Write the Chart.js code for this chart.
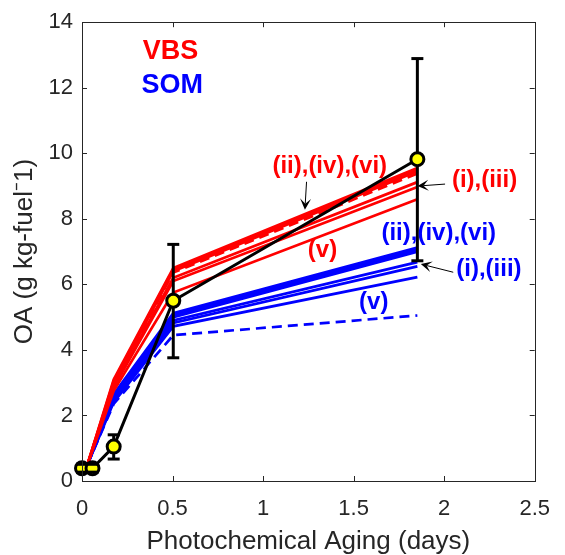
<!DOCTYPE html>
<html><head><meta charset="utf-8">
<script src="https://cdn.jsdelivr.net/npm/chart.js@4/dist/chart.umd.min.js"></script>
<style>html,body{margin:0;padding:0;background:#fff}</style>
</head><body>
<canvas id="c" width="565" height="555"></canvas>
<script>
// Measurements
const measX = [0, 0.058, 0.175, 0.504, 1.852];
const measY = [0.39, 0.39, 1.05, 5.50, 9.82];
const errLow = [0.27, 0.27, 0.67, 3.76, 6.72];
const errHigh = [0.51, 0.51, 1.41, 7.22, 12.89];

// Model runs (x = photochemical age, days)
const modelX = [0.03, 0.175, 0.504, 1.852];
const vbsII  = [0.5, 3.10, 6.50, 9.55];
const vbsIV  = [0.5, 3.05, 6.45, 9.50];
const vbsVI  = [0.5, 3.00, 6.40, 9.45];
const vbsBase = [0.5, 2.98, 6.36, 9.38];
const vbsI   = [0.5, 2.90, 6.20, 9.12];
const vbsIII = [0.5, 2.85, 6.10, 8.97];
const vbsV   = [0.5, 2.75, 5.75, 8.60];

const somII  = [0.5, 2.65, 5.12, 7.12];
const somIV  = [0.5, 2.60, 5.06, 7.06];
const somVI  = [0.5, 2.55, 5.00, 7.00];
const somI   = [0.5, 2.50, 4.90, 6.68];
const somIII = [0.5, 2.45, 4.82, 6.55];
const somV   = [0.5, 2.40, 4.72, 6.22];
const somBase = [0.5, 2.35, 4.45, 5.05];

const xTicks = [0, 0.5, 1, 1.5, 2, 2.5];
const yTicks = [0, 2, 4, 6, 8, 10, 12, 14];

const RED = '#ff0000', BLUE = '#0000ff', AX = '#262626';
const FONT = "'Liberation Sans', Arial, Helvetica, sans-serif";

const pts = (xs, ys) => xs.map((x, i) => ({x, y: ys[i]}));
function model(ys, color, dashed, order) {
  return {data: pts(modelX, ys), borderColor: color, borderWidth: 2.7, pointRadius: 0,
          borderDash: dashed ? [10, 6] : [], tension: 0, order, fill: false};
}

const datasets = [
  {label: 'measPts', data: pts(measX, measY), showLine: false, pointRadius: 6.5, pointBorderWidth: 3,
   pointBackgroundColor: '#ffff00', pointBorderColor: '#000', order: 0, clip: false},
  {label: 'measLine', data: pts(measX, measY), borderColor: '#000', borderWidth: 3, pointRadius: 0, tension: 0, order: 1, clip: false},
  model(vbsII, RED, false, 2), model(vbsIV, RED, false, 2), model(vbsVI, RED, false, 2),
  model(vbsBase, RED, true, 2), model(vbsI, RED, false, 2), model(vbsIII, RED, false, 2), model(vbsV, RED, false, 2),
  model(somII, BLUE, false, 3), model(somIV, BLUE, false, 3), model(somVI, BLUE, false, 3),
  model(somI, BLUE, false, 3), model(somIII, BLUE, false, 3), model(somV, BLUE, false, 3), model(somBase, BLUE, true, 3)
];

const texts = [
  {t: 'VBS', x: 0.335, y: 13.1, c: RED, s: 27, a: 'left'},
  {t: 'SOM', x: 0.328, y: 12.07, c: BLUE, s: 27, a: 'left'},
  {t: '(ii),(iv),(vi)', x: 1.368, y: 9.6, c: RED, s: 24, a: 'center'},
  {t: '(i),(iii)', x: 2.223, y: 9.18, c: RED, s: 24, a: 'center'},
  {t: '(v)', x: 1.328, y: 7.03, c: RED, s: 24, a: 'center'},
  {t: '(ii),(iv),(vi)', x: 1.970, y: 7.57, c: BLUE, s: 24, a: 'center'},
  {t: '(i),(iii)', x: 2.247, y: 6.47, c: BLUE, s: 24, a: 'center'},
  {t: '(v)', x: 1.611, y: 5.46, c: BLUE, s: 24, a: 'center'}
];
const arrows = [
  {x1: 1.240, y1: 9.13, x2: 1.231, y2: 8.28},
  {x1: 2.005, y1: 9.06, x2: 1.853, y2: 9.00},
  {x1: 2.050, y1: 6.37, x2: 1.871, y2: 6.62}
];

const overlay = {
  id: 'overlay',
  afterDatasetDraw(chart, args) {
    if (args.meta.label !== 'measLine') return;
    const {ctx, scales: {x, y}} = chart;
    ctx.save();
    ctx.strokeStyle = '#000'; ctx.lineWidth = 3;
    measX.forEach((mx, i) => {
      const px = x.getPixelForValue(mx);
      ctx.beginPath();
      ctx.moveTo(px, y.getPixelForValue(errLow[i]));
      ctx.lineTo(px, y.getPixelForValue(errHigh[i]));
      ctx.stroke();
    });
    ctx.restore();
  },
  afterDatasetsDraw(chart) {
    const {ctx, scales: {x, y}, chartArea: ca} = chart;
    ctx.save();
    // error caps
    ctx.strokeStyle = '#000'; ctx.lineWidth = 3;
    measX.forEach((mx, i) => {
      const px = x.getPixelForValue(mx);
      [errLow[i], errHigh[i]].forEach(v => {
        const py = y.getPixelForValue(v);
        ctx.beginPath(); ctx.moveTo(px - 6, py); ctx.lineTo(px + 6, py); ctx.stroke();
      });
    });
    // arrows
    arrows.forEach(a => {
      const x1 = x.getPixelForValue(a.x1), y1 = y.getPixelForValue(a.y1);
      const x2 = x.getPixelForValue(a.x2), y2 = y.getPixelForValue(a.y2);
      const ang = Math.atan2(y2 - y1, x2 - x1);
      ctx.strokeStyle = '#000'; ctx.lineWidth = 1;
      ctx.beginPath(); ctx.moveTo(x1, y1); ctx.lineTo(x2 - 6 * Math.cos(ang), y2 - 6 * Math.sin(ang)); ctx.stroke();
      const L = 11, W = 5.5, N = 6;
      const c = Math.cos(ang), s = Math.sin(ang);
      ctx.fillStyle = '#000';
      ctx.beginPath();
      ctx.moveTo(x2, y2);
      ctx.lineTo(x2 - L * c - W * s, y2 - L * s + W * c);
      ctx.lineTo(x2 - N * c, y2 - N * s);
      ctx.lineTo(x2 - L * c + W * s, y2 - L * s - W * c);
      ctx.closePath(); ctx.fill();
    });
    // texts
    ctx.textBaseline = 'middle';
    texts.forEach(t => {
      ctx.font = `bold ${t.s}px ${FONT}`;
      ctx.fillStyle = t.c; ctx.textAlign = t.a;
      ctx.fillText(t.t, x.getPixelForValue(t.x), y.getPixelForValue(t.y));
    });
    // box and inward ticks
    ctx.strokeStyle = AX; ctx.lineWidth = 1;
    ctx.strokeRect(Math.round(ca.left) + 0.5, Math.round(ca.top) + 0.5, Math.round(ca.right - ca.left), Math.round(ca.bottom - ca.top));
    const T = 5;
    ctx.beginPath();
    xTicks.forEach(v => {
      const px = Math.round(x.getPixelForValue(v)) + 0.5;
      ctx.moveTo(px, ca.bottom); ctx.lineTo(px, ca.bottom - T);
      ctx.moveTo(px, ca.top); ctx.lineTo(px, ca.top + T);
    });
    yTicks.forEach(v => {
      const py = Math.round(y.getPixelForValue(v)) + 0.5;
      ctx.moveTo(ca.left, py); ctx.lineTo(ca.left + T, py);
      ctx.moveTo(ca.right, py); ctx.lineTo(ca.right - T, py);
    });
    ctx.stroke();
    ctx.restore();
  }
};

new Chart(document.getElementById('c'), {
  type: 'line',
  data: {datasets},
  options: {
    responsive: false, animation: false, devicePixelRatio: 1,
    layout: {padding: {top: 17, right: 18, left: 0, bottom: 0}},
    plugins: {legend: {display: false}, tooltip: {enabled: false}},
    scales: {
      x: {type: 'linear', min: 0, max: 2.5,
          afterBuildTicks: s => { s.ticks = xTicks.map(v => ({value: v})); },
          afterFit: s => { s.height = 74; },
          grid: {display: false, drawTicks: false}, border: {display: false},
          ticks: {color: AX, font: {family: FONT, size: 22}, padding: 15, maxRotation: 0,
                  callback: v => String(v)},
          title: {display: true, text: 'Photochemical Aging (days)', color: AX,
                  font: {family: FONT, size: 26, lineHeight: 1}, padding: 0}},
      y: {type: 'linear', min: 0, max: 14,
          afterBuildTicks: s => { s.ticks = yTicks.map(v => ({value: v})); },
          afterFit: s => { s.width = 82; },
          grid: {display: false, drawTicks: false}, border: {display: false},
          ticks: {color: AX, font: {family: FONT, size: 22}, padding: 9, callback: v => String(v)},
          title: {display: true, text: 'OA (g kg-fuel\u207B1)', color: AX,
                  font: {family: FONT, size: 26, lineHeight: 1}, padding: {top: 12, bottom: 0}}}
    }
  },
  plugins: [overlay]
});
</script>
</body></html>
